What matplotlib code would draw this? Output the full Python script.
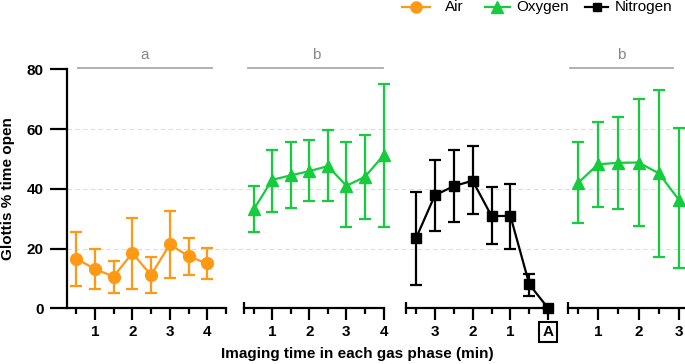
import matplotlib
matplotlib.use("Agg")
import matplotlib.pyplot as plt
from matplotlib.lines import Line2D

plt.rcParams['font.family'] = ['Liberation Sans', 'DejaVu Sans']

# ---------------- data ----------------
air_time = [0.5, 1, 1.5, 2, 2.5, 3, 3.5, 4]
air_mean = [16.6, 13.2, 10.6, 18.5, 11.1, 21.4, 17.4, 15.0]
air_low  = [7.5, 6.5, 5.2, 6.5, 5.0, 10.2, 11.1, 9.8]
air_high = [25.4, 20.0, 16.0, 30.3, 17.1, 32.6, 23.6, 20.2]

oxy1_time = [0.5, 1, 1.5, 2, 2.5, 3, 3.5, 4]
oxy1_mean = [33.1, 43.0, 44.5, 45.9, 47.6, 41.0, 44.0, 51.2]
oxy1_low  = [25.5, 32.3, 33.6, 36.0, 35.8, 27.1, 29.8, 27.1]
oxy1_high = [41.0, 53.0, 55.5, 56.3, 59.6, 55.5, 57.9, 75.0]

nit_time = [3.5, 3, 2.5, 2, 1.5, 1, 0.5, 0]   # minutes before apnoea (A)
nit_mean = [23.4, 37.8, 40.9, 42.7, 30.9, 30.9, 8.0, 0.0]
nit_low  = [7.7, 26.0, 28.8, 31.4, 21.4, 19.8, 4.1, 0.0]
nit_high = [38.9, 49.6, 52.9, 54.4, 40.7, 41.7, 11.5, 0.0]

oxy2_time = [0.5, 1, 1.5, 2, 2.5, 3]
oxy2_mean = [41.8, 48.2, 48.7, 48.8, 45.2, 36.2]
oxy2_low  = [28.6, 33.8, 33.1, 27.6, 17.2, 13.6]
oxy2_high = [55.5, 62.2, 64.2, 70.2, 73.0, 60.4]

legend_labels = ['Air', 'Oxygen', 'Nitrogen']
panel_major_ticks = [[1, 2, 3, 4], [1, 2, 3, 4], [3, 2, 1, 0], [1, 2, 3]]
panel_major_labels = [['1', '2', '3', '4'], ['1', '2', '3', '4'], ['3', '2', '1', 'A'], ['1', '2', '3']]
panel_minor_ticks = [[0.5, 1.5, 2.5, 3.5, 4.5], [0.5, 1.5, 2.5, 3.5], [3.5, 2.5, 1.5, 0.5], [0.5, 1.5, 2.5]]
sig_labels = ['a', 'b', None, 'b']
sig_spans = [(0.55, 4.12), (0.36, 3.99), None, (0.32, 2.85)]

y_ticks = [0, 20, 40, 60, 80]
grid_levels = [20, 40, 60]

# ---------------- style ----------------
ORANGE = '#FF9914'
GREEN = '#14CC3C'
BLACK = '#000000'
GRAY = '#AAAAAA'
FS = 11

W, H = 685, 364
fig = plt.figure(figsize=(W / 100, H / 100), dpi=100)

y0_px, y80_px = 308.3, 69.3
bottom = (H - y0_px) / H
height = (y0_px - y80_px) / H

def fx(px):
    return px / W

def fy(px):
    return (H - px) / H

panels = [
    dict(left=66.7, right=226.0, xlim=(0.25, 4.5)),
    dict(left=244.4, right=383.5, xlim=(0.25, 4.0)),
    dict(left=406.5, right=552.0, xlim=(3.75, -0.1)),
    dict(left=567.5, right=684.0, xlim=(0.25, 3.12)),
]

bg = fig.add_axes([fx(66.7), bottom, fx(W - 66.7), height])
bg.set_ylim(0, 80)
bg.set_xlim(0, 1)
bg.axis('off')
for g in grid_levels:
    bg.axhline(g, color='#DDDDDD', lw=0.8, ls=(0, (4, 3)), zorder=0)

series = [
    (air_time, air_mean, air_low, air_high, ORANGE, 'o', 8.5),
    (oxy1_time, oxy1_mean, oxy1_low, oxy1_high, GREEN, '^', 8.5),
    (nit_time, nit_mean, nit_low, nit_high, BLACK, 's', 6.5),
    (oxy2_time, oxy2_mean, oxy2_low, oxy2_high, GREEN, '^', 8.5),
]

axes = []
for i, (p, s) in enumerate(zip(panels, series)):
    ax = fig.add_axes([fx(p['left']), bottom, fx(p['right'] - p['left']), height])
    ax.patch.set_visible(False)
    ax.set_xlim(*p['xlim'])
    ax.set_ylim(0, 80)
    t, m, lo, hi, c, mk, ms = s
    yerr = [[mm - l for mm, l in zip(m, lo)], [h - mm for mm, h in zip(m, hi)]]
    ax.errorbar(t, m, yerr=yerr, color=c, lw=1.6, marker=mk, ms=ms,
                capsize=4.5, capthick=1.6, elinewidth=1.6, clip_on=False, zorder=5)
    for sp in ['top', 'right']:
        ax.spines[sp].set_visible(False)
    ax.spines['bottom'].set_linewidth(1.6)
    ax.set_xticks(panel_major_ticks[i])
    ax.set_xticklabels(panel_major_labels[i], fontsize=FS, fontweight='bold')
    ax.set_xticks(panel_minor_ticks[i], minor=True)
    ax.tick_params(axis='x', which='major', length=8.5, width=1.6, pad=3.5)
    ax.tick_params(axis='x', which='minor', length=4.5, width=1.6)
    if i == 0:
        ax.spines['left'].set_linewidth(1.6)
        ax.set_yticks(y_ticks)
        ax.set_yticklabels([str(v) for v in y_ticks], fontsize=FS, fontweight='bold')
        ax.tick_params(axis='y', length=12, width=1.6, pad=4.5)
    else:
        ax.spines['left'].set_visible(False)
        ax.set_yticks([])
        ax.plot([0], [0], transform=ax.transAxes, marker='|', ms=8, mew=1.6,
                color='black', clip_on=False)
    if sig_labels[i] is not None:
        a, b = sig_spans[i]
        ax.plot([a, b], [80.4, 80.4], color=GRAY, lw=1.3, clip_on=False)
        ax.text((a + b) / 2, 82.3, sig_labels[i], ha='center', va='bottom',
                color='#888888', fontsize=FS, clip_on=False)
    axes.append(ax)

lab = axes[2].get_xticklabels()[-1]
lab.set_bbox(dict(boxstyle='square,pad=0.22', fc='white', ec='black', lw=1.5))

fig.text(fx(8), fy(189), 'Glottis % time open', rotation=90, ha='center',
         va='center', fontsize=FS, fontweight='bold')
fig.text(fx(357), fy(354), 'Imaging time in each gas phase (min)', ha='center',
         va='center', fontsize=FS, fontweight='bold')

# legend drawn as handle + text, placed like the reference
legend_style = [(ORANGE, 'o', 8), (GREEN, '^', 8), (BLACK, 's', 6)]
legend_place = [(402, 430, 445), (485, 510, 516), (585, 608, 615)]
ly = fy(7)
for lbl, (c, mk, ms), (x1, x2, xt) in zip(legend_labels, legend_style, legend_place):
    fig.add_artist(Line2D([fx(x1), fx(x2)], [ly, ly], color=c, lw=1.6,
                          transform=fig.transFigure))
    fig.add_artist(Line2D([fx((x1 + x2) / 2)], [ly], color=c, marker=mk, ms=ms,
                          lw=0, transform=fig.transFigure))
    fig.text(fx(xt), ly, lbl, ha='left', va='center', fontsize=FS)

fig.savefig('out.png', dpi=100)
